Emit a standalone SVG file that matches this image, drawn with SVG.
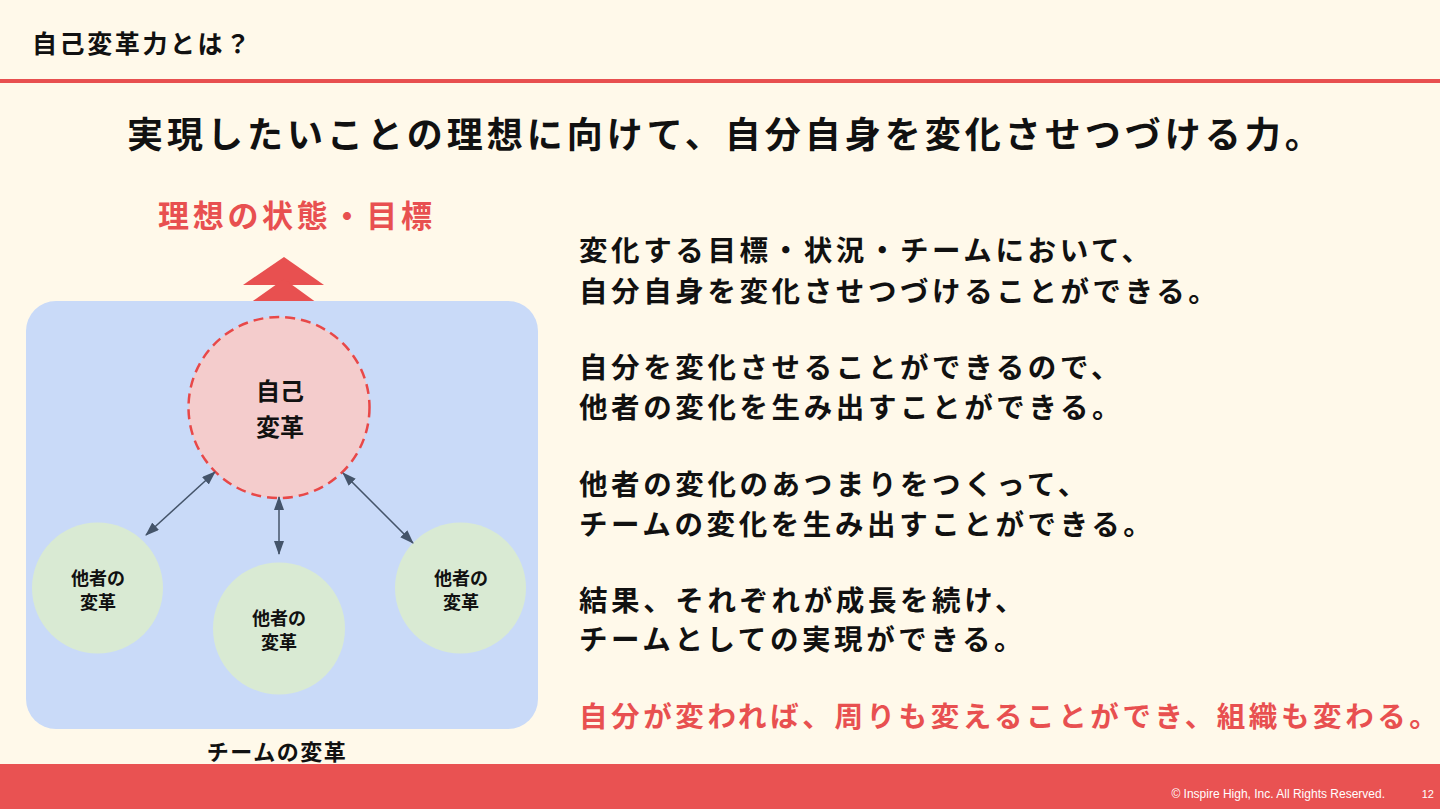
<svg xmlns="http://www.w3.org/2000/svg" width="1440" height="809" viewBox="0 0 1440 809">
<defs>
<style>
text{font-family:"Noto Sans CJK JP","Noto Sans",sans-serif;font-weight:bold;dominant-baseline:central}
.blk{fill:#111}
.red{fill:#E85050}
.body{font-size:28.5px;letter-spacing:3.6px;fill:#111}
.g{font-size:18px;text-anchor:middle;fill:#111}
.conn{stroke:#44546A;stroke-width:1.5;fill:none;marker-start:url(#ah);marker-end:url(#ah)}
</style>
<marker id="ah" viewBox="0 0 14 10" refX="13" refY="5" markerWidth="14" markerHeight="10" markerUnits="userSpaceOnUse" orient="auto-start-reverse">
<path d="M0,0 L14,5 L0,10 Z" fill="#44546A"/>
</marker>
</defs>
<rect x="0" y="0" width="1440" height="809" fill="#FFF9EA"/>
<rect x="0" y="79" width="1440" height="4" fill="#E85050"/>
<rect x="0" y="764" width="1440" height="45" fill="#E95252"/>
<text x="32" y="42" class="blk" style="font-size:25px;letter-spacing:2.6px">自己変革力とは？</text>
<text x="127" y="132" class="blk" style="font-size:36px;letter-spacing:4px">実現したいことの理想に向けて、自分自身を変化させつづける力。</text>
<text x="158" y="213" class="red" style="font-size:31px;letter-spacing:3.7px">理想の状態・目標</text>
<g id="ideal-arrow" fill="#E85050">
<polygon points="284,257 243,285 324,285"/>
<polygon points="284,279 243,308 324,308"/>
</g>
<g id="team">
<rect x="26" y="301" width="512" height="428" rx="30" fill="#C9DAF8"/>
<text x="277" y="750" class="blk" style="font-size:22px;letter-spacing:1.5px;text-anchor:middle">チームの変革</text>
</g>
<g id="self">
<circle cx="279" cy="407.5" r="90.5" fill="#F4CCCC" stroke="#E84848" stroke-width="2.5" stroke-dasharray="10 6"/>
<text x="280" y="389" class="blk" style="font-size:24px;text-anchor:middle">自己</text>
<text x="280" y="425" class="blk" style="font-size:24px;text-anchor:middle">変革</text>
</g>
<g id="other-left">
<circle cx="97.5" cy="588" r="65.5" fill="#D9EAD3"/>
<text x="98" y="576.5" class="g">他者の</text>
<text x="98" y="600.5" class="g">変革</text>
</g>
<g id="other-mid">
<circle cx="279" cy="628.5" r="66" fill="#D9EAD3"/>
<text x="279" y="616.5" class="g">他者の</text>
<text x="279" y="640.5" class="g">変革</text>
</g>
<g id="other-right">
<circle cx="460.5" cy="588" r="65.5" fill="#D9EAD3"/>
<text x="461" y="576.5" class="g">他者の</text>
<text x="461" y="600.5" class="g">変革</text>
</g>
<g id="connectors">
<line class="conn" x1="146" y1="535" x2="215" y2="472"/>
<line class="conn" x1="279" y1="554" x2="279" y2="497"/>
<line class="conn" x1="413" y1="543" x2="343" y2="473"/>
</g>
<g id="text-block">
<text x="579" y="248" class="body">変化する目標・状況・チームにおいて、</text>
<text x="579" y="289" class="body">自分自身を変化させつづけることができる。</text>
<text x="579" y="365" class="body">自分を変化させることができるので、</text>
<text x="579" y="405" class="body">他者の変化を生み出すことができる。</text>
<text x="579" y="482" class="body">他者の変化のあつまりをつくって、</text>
<text x="579" y="522" class="body">チームの変化を生み出すことができる。</text>
<text x="579" y="598" class="body">結果、それぞれが成長を続け、</text>
<text x="579" y="637" class="body">チームとしての実現ができる。</text>
<text x="579" y="714" class="body" style="fill:#E85050">自分が変われば、周りも変えることができ、組織も変わる。</text>
</g>
<text x="1385" y="794" style="font-family:'Liberation Sans',Arial,sans-serif;font-weight:normal;font-size:12px;fill:#fff;text-anchor:end">© Inspire High, Inc. All Rights Reserved.</text>
<text x="1434" y="794" style="font-family:'Liberation Sans',Arial,sans-serif;font-weight:normal;font-size:11px;fill:#fff;text-anchor:end">12</text>
</svg>
